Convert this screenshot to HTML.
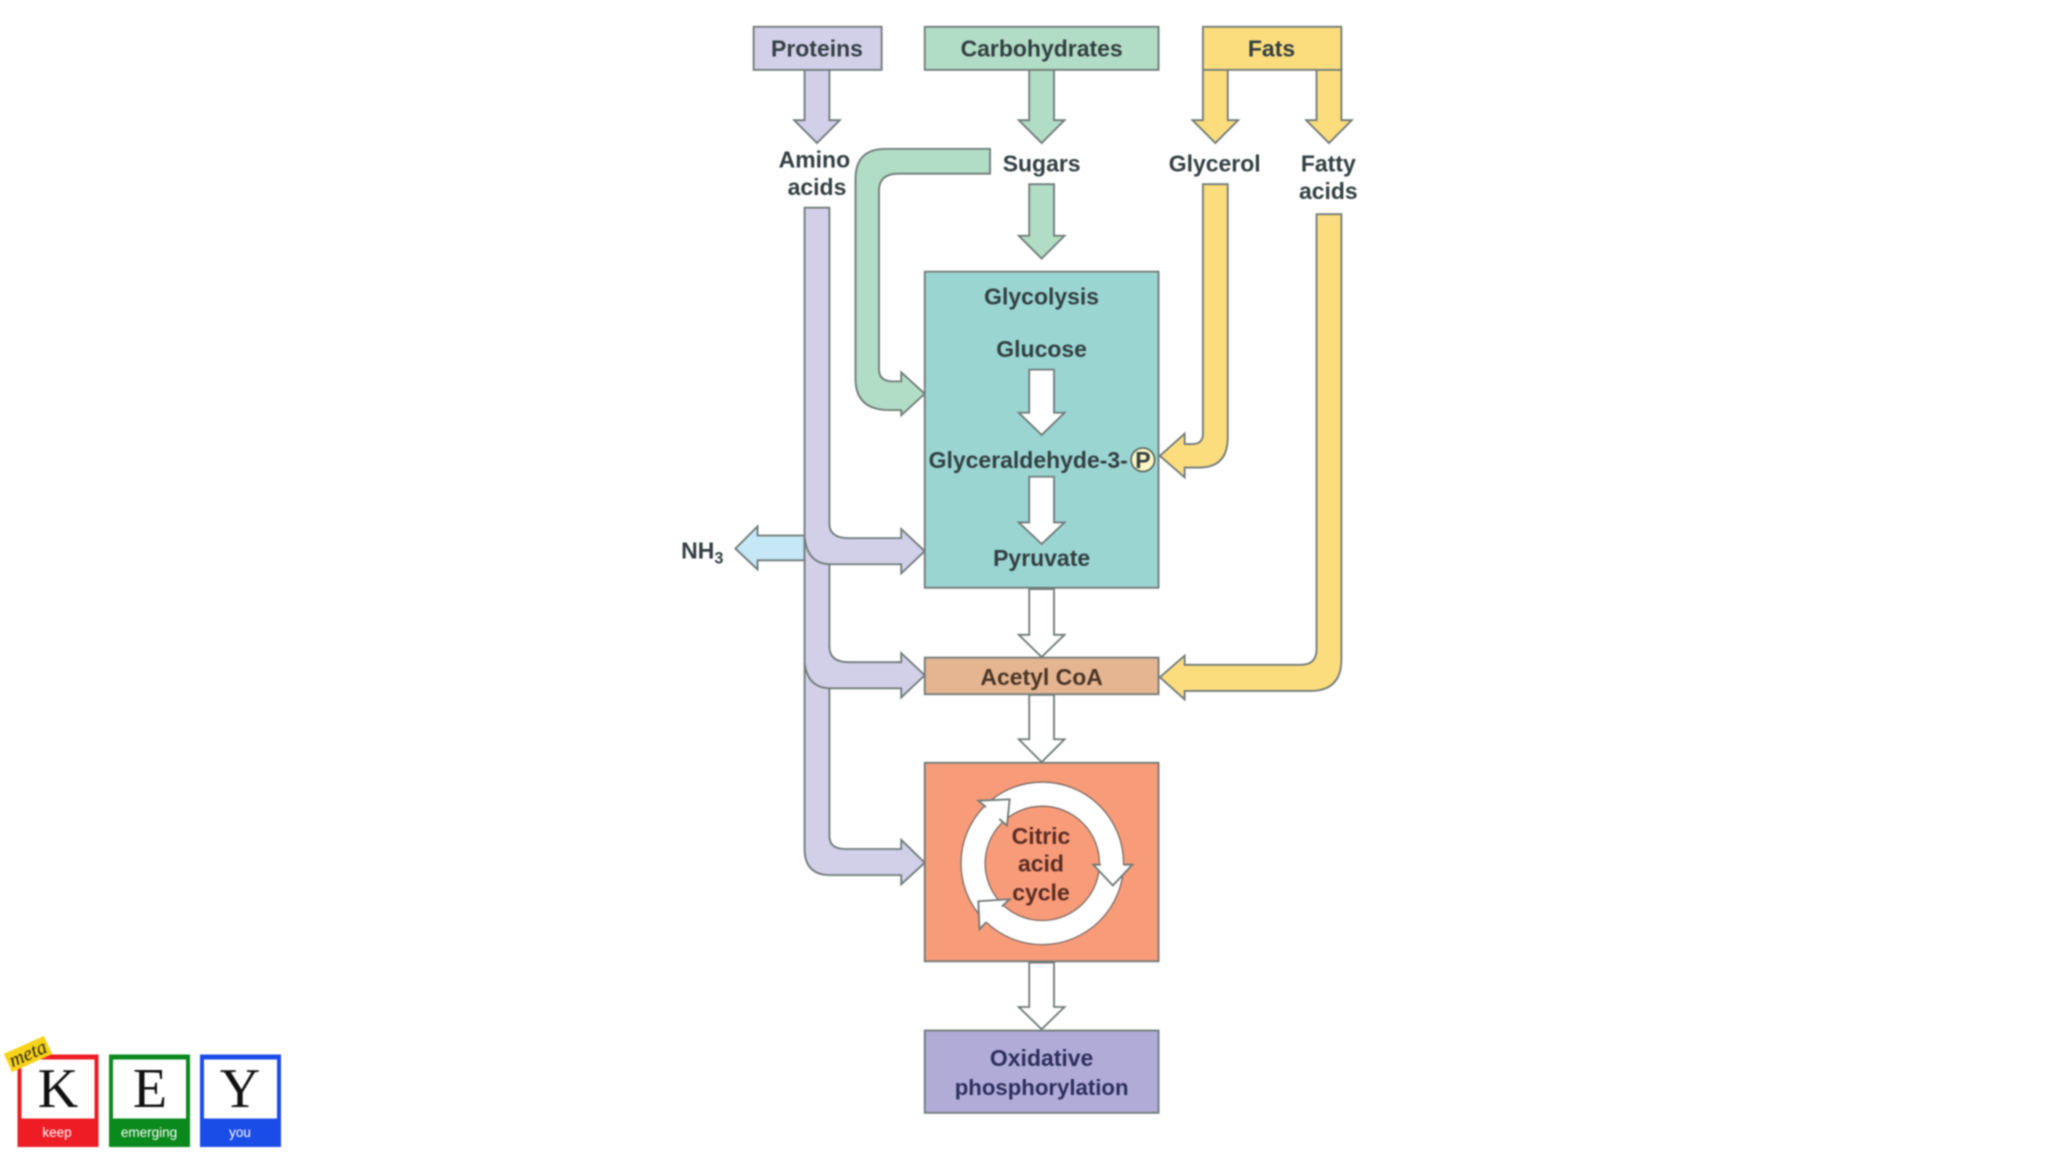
<!DOCTYPE html>
<html>
<head>
<meta charset="utf-8">
<style>
html,body{margin:0;padding:0;background:#fff;width:2048px;height:1152px;overflow:hidden}
svg{display:block;filter:blur(.75px)}
text{font-family:"Liberation Sans",sans-serif;font-weight:700;font-size:17.6px;fill:#333f42;text-anchor:middle}
.a{stroke:#6f7a78;stroke-width:1.4;stroke-linejoin:miter}
</style>
</head>
<body>
<svg width="2048" height="1152" viewBox="0 0 1568 882" xmlns="http://www.w3.org/2000/svg">
<rect width="1568" height="882" fill="#fff"/>

<!-- top down arrows -->
<path class="a" fill="#d2cfe9" d="M616,53H635V92H643L625.5,109.5L608,92H616Z"/>
<path class="a" fill="#b1dcc5" d="M788,53H807V92H815L797.5,109.5L780,92H788Z"/>
<path class="a" fill="#b1dcc5" d="M788,141H807V180.5H815L797.5,198L780,180.5H788Z"/>
<path class="a" fill="#fcdd7e" d="M921,53H940V92H948L930.5,109.5L913,92H921Z"/>
<path class="a" fill="#fcdd7e" d="M1008,53H1027V92H1035L1017.5,109.5L1000,92H1008Z"/>

<!-- green curved -->
<path class="a" fill="#b1dcc5" d="M758,114H678Q655,114 655,137V290Q655,314 681,314H690V318L708,301.5L690,285V292H684Q673,292 673,283V146Q673,133 688,133H758Z"/>

<!-- yellow curved -->
<path class="a" fill="#fcdd7e" d="M921,141H940V335Q940,358 918,358H907V365.5L888,349L907,332V340H913Q921,340 921,332Z"/>
<path class="a" fill="#fcdd7e" d="M1008,164H1027V505Q1027,529 1003,529H907V535.5L888,518.5L907,502V509H996Q1008,509 1008,497Z"/>

<!-- NH3 arrow -->
<path class="a" fill="#c5e7f6" d="M616,410H580V403L563,420L580,436V429H616Z"/>

<!-- purple main with branches -->
<path class="a" fill="#d2cfe9" d="M616,159H635V640Q635,650 647,650H690V643L708,660.5L690,677V670H636Q616,670 616,650Z"/>
<path class="a" fill="#d2cfe9" d="M635,401Q635,412 650,412H690V405L708,422L690,439V432H636Q618,432 616,411"/>
<path class="a" fill="#d2cfe9" d="M635,495Q635,507 650,507H690V500L708,517L690,534V527H636Q618,527 616,507"/>

<!-- boxes -->
<rect class="a" x="577" y="20.5" width="98" height="33" fill="#d2cfe9"/>
<rect class="a" x="708" y="20.5" width="179" height="33" fill="#b1dcc5"/>
<rect class="a" x="921" y="20.5" width="106" height="33" fill="#fcdd7e"/>
<rect class="a" x="708" y="208" width="179" height="242" fill="#9ad5d2"/>
<rect class="a" x="708" y="503.5" width="179" height="28" fill="#e5b591"/>
<rect class="a" x="708" y="584" width="179" height="152" fill="#f89b79"/>
<rect class="a" x="708" y="789" width="179" height="63" fill="#b0acd7"/>

<!-- white arrows -->
<path class="a" fill="#fff" d="M788,283H807V316H815L797.5,333L780,316H788Z"/>
<path class="a" fill="#fff" d="M788,365H807V400H815L797.5,416.5L780,400H788Z"/>
<path class="a" fill="#fff" d="M788,451H807V486H815L797.5,503L780,486H788Z"/>
<path class="a" fill="#fff" d="M788,532H807V566H815L797.5,583.5L780,566H788Z"/>
<path class="a" fill="#fff" d="M788,737H807V771H815L797.5,788L780,771H788Z"/>

<!-- citric ring -->
<circle cx="798" cy="661" r="53" fill="none" stroke="#7a6a64" stroke-width="19.5"/>
<circle cx="798" cy="661" r="53" fill="none" stroke="#fff" stroke-width="17.5"/>
<polygon fill="#fff" points="749,613 773,612 771,632"/>
<polyline fill="none" class="a" points="755,618 749,613 773,612 771,632 765,627"/>
<polygon fill="#fff" points="837,662 867,662 852,678"/>
<polyline fill="none" class="a" points="843,662 837,662 852,678 867,662 860,662"/>
<polygon fill="#fff" points="749,690 773,688.5 750,711.5"/>
<polyline fill="none" class="a" points="767,694 773,688.5 749,690 750,711.5 755,706"/>

<!-- labels -->
<text x="625.5" y="43.3">Proteins</text>
<text x="797.5" y="43.3">Carbohydrates</text>
<text x="973.5" y="43.3">Fats</text>
<text x="623.5" y="128.3">Amino</text>
<text x="625.5" y="149.3">acids</text>
<text x="797.5" y="131.3">Sugars</text>
<text x="930" y="131.3">Glycerol</text>
<text x="1017" y="131.3">Fatty</text>
<text x="1017" y="152.3">acids</text>
<text x="797.5" y="233.3">Glycolysis</text>
<text x="797.5" y="273.3">Glucose</text>
<text x="711" y="358.3" style="text-anchor:start">Glyceraldehyde-3-</text>
<circle cx="875" cy="352" r="9" fill="#fbf4c4" stroke="#555f5a" stroke-width="1.2"/>
<text x="875" y="358.3">P</text>
<text x="797.5" y="433.3">Pyruvate</text>
<text x="797.5" y="524.3" style="fill:#4a3628">Acetyl CoA</text>
<text x="797" y="646.3" style="fill:#5a2d24">Citric</text>
<text x="797" y="667.3" style="fill:#5a2d24">acid</text>
<text x="797" y="689.3" style="fill:#5a2d24">cycle</text>
<text x="797.5" y="816.3" style="fill:#2e2e5c">Oxidative</text>
<text x="797.5" y="838.3" style="fill:#2e2e5c;font-size:17px">phosphorylation</text>
<text x="521.5" y="427.5" style="text-anchor:start">NH<tspan font-size="12.5" dy="4">3</tspan></text>

<!-- KEY logo, real pixel coordinates -->
<g transform="scale(0.765625)">
  <rect x="17.5" y="1054.5" width="81" height="92.5" fill="#ee1c25"/>
  <rect x="21.5" y="1059.5" width="73" height="59" fill="#fff"/>
  <rect x="109" y="1054.5" width="81" height="92.5" fill="#0a8a1c"/>
  <rect x="113" y="1059.5" width="73" height="59" fill="#fff"/>
  <rect x="200" y="1054.5" width="81" height="92.5" fill="#1a4ce8"/>
  <rect x="204" y="1059.5" width="73" height="59" fill="#fff"/>
  <text x="58" y="1107" style="font-family:'Liberation Serif',serif;font-weight:400;font-size:56px;fill:#111">K</text>
  <text x="150" y="1107" style="font-family:'Liberation Serif',serif;font-weight:400;font-size:56px;fill:#111">E</text>
  <text x="240" y="1107" style="font-family:'Liberation Serif',serif;font-weight:400;font-size:56px;fill:#111">Y</text>
  <text x="57" y="1137" style="font-weight:400;font-size:13.5px;fill:#fff">keep</text>
  <text x="149" y="1137" style="font-weight:400;font-size:13.5px;fill:#fff">emerging</text>
  <text x="240" y="1137" style="font-weight:400;font-size:13.5px;fill:#fff">you</text>
  <g transform="translate(28,1054) rotate(-24)">
    <rect x="-22" y="-10" width="44" height="20" fill="#f7d21a"/>
    <text x="0" y="6" style="font-family:'Liberation Serif',serif;font-style:italic;font-weight:400;font-size:20px;fill:#2a2a10">meta</text>
  </g>
</g>
</svg>
</body>
</html>
